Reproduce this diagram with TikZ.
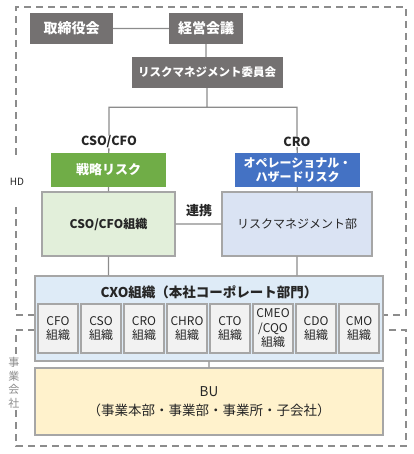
\documentclass[tikz,border=0pt]{standalone}
\usepackage{fontspec}
\setmainfont{Noto Sans CJK JP}
\usetikzlibrary{positioning, calc}

\definecolor{boardgray}{HTML}{747171}
\definecolor{linegray}{HTML}{8C8C8C}
\definecolor{framegray}{HTML}{A6A6A6}
\definecolor{riskgreen}{HTML}{70AD47}
\definecolor{riskblue}{HTML}{4472C4}
\definecolor{orggreen}{HTML}{E2EFDA}
\definecolor{orgblue}{HTML}{DAE3F3}
\definecolor{cxoblue}{HTML}{DEEBF7}
\definecolor{unitgray}{HTML}{F2F2F2}
\definecolor{buyellow}{HTML}{FFF2CC}
\definecolor{inktext}{HTML}{262626}

\begin{document}
\begin{tikzpicture}[x=1pt, y=-1pt, inner sep=0pt,
    board/.style={fill=boardgray, text=white, minimum height=31pt,
        font=\bfseries\fontsize{14}{16}\selectfont},
    risk/.style={text=white, minimum height=34pt, align=center,
        font=\bfseries\fontsize{12}{14}\selectfont},
    org/.style={draw=framegray, line width=1.4pt, text=inktext, align=center},
    unit/.style={org, fill=unitgray, minimum width=40pt, minimum height=49pt,
        font=\fontsize{12}{14.5}\selectfont},
    role/.style={text=inktext, font=\bfseries\fontsize{12.5}{14}\selectfont},
    conn/.style={draw=linegray, line width=1.3pt},
    zone/.style={draw=linegray, line width=1.2pt, dash pattern=on 7pt off 5pt}]

    \useasboundingbox (0,0) rectangle (413,454);

    % Zones HD / 事業会社
    \draw[zone] (35,315) -- (16,315) -- (16,205);
    \draw[zone] (16,155) -- (16,7) -- (406,7) -- (406,315) -- (383,315);
    \draw[zone] (35,330) -- (16,330) -- (16,354);
    \draw[zone] (16,410) -- (16,446) -- (406,446) -- (406,330) -- (383,330);
    \node[text=inktext, font=\fontsize{10}{12}\selectfont] (hd) at (17,182) {HD};
    \node[text=linegray, align=center, font=\fontsize{11}{13.5}\selectfont] (jigyo) at (14,383) {事\\業\\会\\社};

    % Organes de direction
    \node[board, minimum width=83pt] (torishimari) at (71.5,28.5) {取締役会};
    \node[board, minimum width=74pt] (keiei) at (206,28.5) {経営会議};
    \node[board, minimum width=151pt, font=\bfseries\fontsize{11.5}{14}\selectfont] (iinkai) at (207,72.5) {リスクマネジメント委員会};

    % Responsables et risques
    \node[role] (csocfo) at (109,142) {CSO/CFO};
    \node[role] (cro) at (297,142) {CRO};
    \node[risk, fill=riskgreen, minimum width=115pt, font=\bfseries\fontsize{13}{15}\selectfont] (senryaku) at (108.5,170) {戦略リスク};
    \node[risk, fill=riskblue, minimum width=125pt] (opera) at (297.5,170) {オペレーショナル・\\ハザードリスク};
    \node[org, fill=orggreen, minimum width=133pt, minimum height=64pt, font=\bfseries\fontsize{12}{14}\selectfont] (csoorg) at (108.5,224) {CSO/CFO組織};
    \node[org, fill=orgblue, minimum width=150pt, minimum height=64pt, font=\fontsize{12}{14}\selectfont] (rmbu) at (297,224) {リスクマネジメント部};
    \node[role, font=\bfseries\fontsize{13}{15}\selectfont] (renkei) at (199,211) {連携};

    % CXO組織
    \node[org, fill=cxoblue, minimum width=348pt, minimum height=85pt] (cxo) at (209,318.5) {};
    \node[text=inktext, font=\bfseries\fontsize{13.5}{16}\selectfont] (cxotitle) at (209,292) {CXO組織（本社コーポレート部門）};
    \foreach \name/\lbl [count=\i from 0] in {cfo/{CFO\\組織}, cso/{CSO\\組織}, cro/{CRO\\組織}, chro/{CHRO\\組織}, cto/{CTO\\組織}, cmeo/{CMEO\\/CQO\\組織}, cdo/{CDO\\組織}, cmo/{CMO\\組織}}
        \node[unit] (u\name) at ({58+43*\i},328.5) {\lbl};

    % BU
    \node[org, fill=buyellow, minimum width=348pt, minimum height=67pt, font=\fontsize{13.5}{19}\selectfont] (bu) at (209,401.5) {BU\\（事業本部・事業部・事業所・子会社）};

    % Liaisons
    \coordinate (split) at ($(iinkai.south)+(0,19)$);
    \path[conn]
        (torishimari) -- (keiei)
        (keiei.south) -- (keiei.south |- iinkai.north)
        (iinkai.south) -- (split)
        (csocfo.north) |- (split) -| (cro.north)
        (csocfo) -- (senryaku)
        (cro) -- (opera)
        (senryaku) -- (csoorg)
        (opera) -- (rmbu)
        (csoorg.south) -- (csoorg.south |- cxo.north)
        (rmbu.south) -- (rmbu.south |- cxo.north)
        (csoorg) -- (rmbu)
        (cxo) -- (bu);
\end{tikzpicture}
\end{document}
